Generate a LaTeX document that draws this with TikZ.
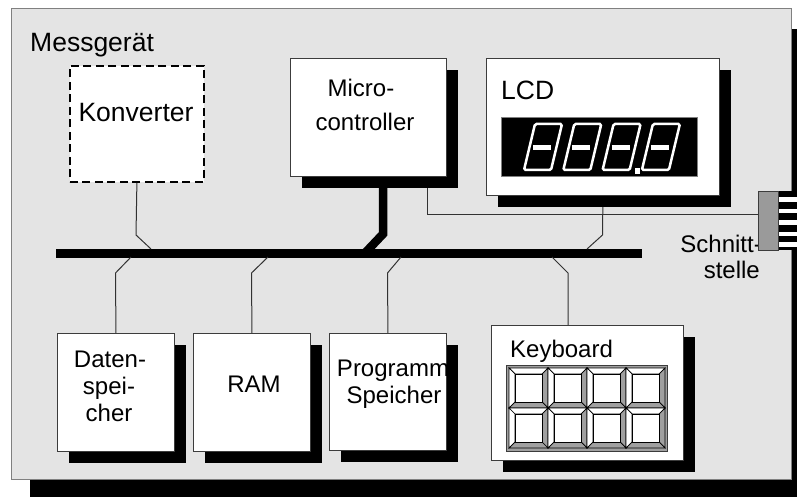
\documentclass[tikz,border=0pt]{standalone}
\usepackage{fontspec}
\setmainfont{Liberation Sans}
\usetikzlibrary{shadows}
\definecolor{bggray}{RGB}{228,228,228}
\definecolor{outline}{RGB}{128,128,128}
\definecolor{boxline}{RGB}{60,60,60}
\definecolor{wirecol}{RGB}{50,50,50}
\definecolor{conngray}{RGB}{154,154,154}
\definecolor{keygray}{RGB}{160,160,160}
\pgfdeclarelayer{back}
\pgfdeclarelayer{wires}
\pgfsetlayers{back,wires,main}
\tikzset{
  blk/.style={draw=boxline, fill=white, line width=0.9pt, inner sep=0pt, anchor=north west,
    drop shadow={shadow xshift=12pt, shadow yshift=-12pt, fill=black, opacity=1}},
  wire/.style={draw=wirecol, line width=1pt},
  buswire/.style={draw=black, line width=8.5pt},
  txt/.style={inner sep=0pt, font=\fontsize{24}{28}\selectfont},
  bigtxt/.style={inner sep=0pt, font=\fontsize{26.5}{30}\selectfont},
  keyline/.style={draw=black, line width=0.7pt},
}
\begin{document}
\begin{tikzpicture}[x=1pt,y=-1pt]
\useasboundingbox (0,0) rectangle (797,497);
\clip (0,0) rectangle (797,497);

% outer device
\begin{pgfonlayer}{back}
\node[draw=outline, fill=bggray, line width=1pt, inner sep=0pt, anchor=north west,
  minimum width=780pt, minimum height=471pt,
  drop shadow={shadow xshift=18pt, shadow yshift=-21pt, fill=black, opacity=1}]
  (dev) at (11,8) {};
\end{pgfonlayer}

% boxes
\node[draw=black, fill=white, line width=1.8pt, dash pattern=on 8pt off 4.5pt,
  inner sep=0pt, anchor=north west, minimum width=134pt, minimum height=116pt]
  (konv) at (69,65) {};
\node[blk, minimum width=156pt, minimum height=118pt] (mc) at (290,58) {};
\node[blk, minimum width=233pt, minimum height=137pt] (lcd) at (486,58) {};
\node[blk, minimum width=117pt, minimum height=118pt] (ds) at (57,333) {};
\node[blk, minimum width=117pt, minimum height=118pt] (ram) at (193,333) {};
\node[blk, minimum width=117pt, minimum height=117pt] (ps) at (329,333) {};
\node[blk, minimum width=192pt, minimum height=135pt] (kbd) at (491,325) {};

% coordinates for bus and bends
\coordinate (busL) at (56,253.5);
\coordinate (busR) at (642,253.5);
\coordinate (kb) at (136,235);
\coordinate (kj) at (151,249);
\coordinate (lb) at (602.5,235);
\coordinate (lj) at (587,249);
\coordinate (mcb) at (383,234);
\coordinate (mcj) at (365,253);
\coordinate (mcs) at (427,214);
\coordinate (dsj) at (131,257);
\coordinate (dsb) at (115.5,273);
\coordinate (ramj) at (268,257);
\coordinate (ramb) at (251.5,273);
\coordinate (psj) at (401,257);
\coordinate (psb) at (387.5,273);
\coordinate (kbj) at (552,257);
\coordinate (kbb) at (568,273);

% connector (Schnittstelle)
\node[draw=boxline, fill=conngray, line width=0.9pt, inner sep=0pt, anchor=north west,
  minimum width=20pt, minimum height=59pt] (conn) at (758,191) {};

\begin{pgfonlayer}{wires}
\draw[line width=9pt] (busL) -- (busR);
\draw[buswire] (mcb |- mc.south) -- (mcb) -- (mcj);
\draw[wire] (konv.south) -- (kb) -- (kj);
\draw[wire] (lcd.south) -- (lb) -- (lj);
\draw[wire] (mcs |- mc.south) -- (mcs) -- (conn.west |- mcs);
\draw[wire] (dsj) -- (dsb) -- (ds.north);
\draw[wire] (ramj) -- (ramb) -- (ram.north);
\draw[wire] (psj) -- (psb) -- (ps.north);
\draw[wire] (kbj) -- (kbb) -- (kbb |- kbd.north);
\end{pgfonlayer}

% connector pins
\fill[black] (conn.north east) rectangle (797,250);
\foreach \yy in {197,208.5,220,231.5,242}
  \fill[white] (779,\yy) rectangle (797,\yy+4.5);

% LCD display
\node[draw=outline, fill=black, line width=0.8pt, inner sep=0pt, anchor=north west,
  minimum width=196pt, minimum height=59pt] (disp) at (501,117) {};
\foreach \i in {0,1,2,3} {
  \begin{scope}[xshift=\i*39.3pt]
    \draw[white, line width=2.5pt, rounded corners=1.5pt]
      (524,170) -- (551,170) -- (562,124) -- (535,124) -- cycle;
    \draw[white, line width=4.5pt] (533,147.5) -- (551,147.5);
  \end{scope}
}
\fill[white] (635,168) rectangle (640,174);

% keyboard
\node[draw=boxline, fill=keygray, line width=0.9pt, inner sep=0pt, anchor=north west,
  minimum width=161pt, minimum height=86pt] (keys) at (506,365) {};
\foreach \c in {0,1,2,3} {
  \foreach \r in {0,1} {
    \begin{scope}[shift={({509+39*\c},{368+40*\r})}]
      \draw[keyline, fill=white] (0,0) -- (39,0) -- (33,6) -- (6,6) -- cycle;
      \draw[keyline, fill=white] (0,0) -- (6,6) -- (6,34) -- (0,40) -- cycle;
      \draw[keyline, fill=keygray] (39,0) -- (39,40) -- (33,34) -- (33,6) -- cycle;
      \draw[keyline, fill=keygray] (0,40) -- (39,40) -- (33,34) -- (6,34) -- cycle;
      \draw[keyline, fill=white] (6,6) rectangle (33,34);
    \end{scope}
  }
}

% texts
\node[bigtxt, anchor=base west] (tmess) at (30,52) {Messgerät};
\node[bigtxt, anchor=base] (tkonv) at (136,122) {Konverter};
\node[txt, anchor=base] (tmc1) at (361,97) {Micro-};
\node[txt, anchor=base] (tmc2) at (365,131) {controller};
\node[bigtxt, anchor=base west] (tlcd) at (501,100) {LCD};
\node[txt, anchor=base] (tds1) at (110,367) {Daten-};
\node[txt, anchor=base] (tds2) at (109,394) {spei-};
\node[txt, anchor=base] (tds3) at (109,421) {cher};
\node[txt, anchor=base] (tram) at (254,392) {RAM};
\node[txt, anchor=base] (tps1) at (393,376) {Programm};
\node[txt, anchor=base] (tps2) at (394,403) {Speicher};
\node[txt, anchor=base west] (tkbd) at (510,357) {Keyboard};
\node[txt, anchor=base east] (tsc1) at (762,252) {Schnitt-};
\node[txt, anchor=base east] (tsc2) at (760,278) {stelle};

% redraw connector on top of text
\node[draw=boxline, fill=conngray, line width=0.9pt, inner sep=0pt, anchor=north west,
  minimum width=20pt, minimum height=59pt] (conn2) at (758,191) {};
\end{tikzpicture}
\end{document}
